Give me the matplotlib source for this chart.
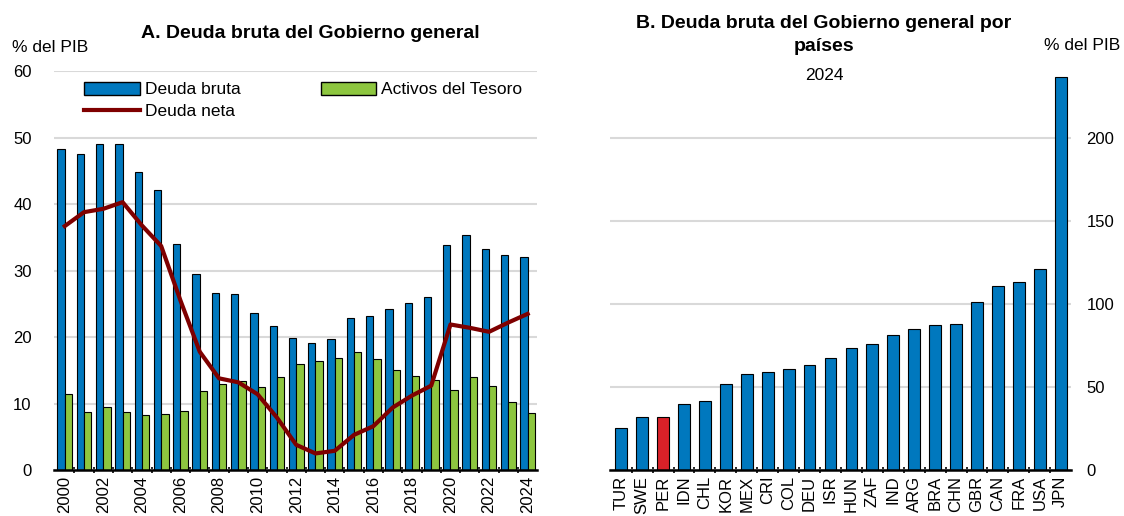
import numpy as np
import matplotlib
matplotlib.use("Agg")
from matplotlib import pyplot as plt
from matplotlib.patches import Patch
from matplotlib.lines import Line2D

# Panel A
years = list(range(2000, 2025))
deuda_bruta = [48.3, 47.6, 49.0, 49.1, 44.9, 42.1, 34.0, 29.5, 26.6, 26.5, 23.7, 21.6, 19.9,
               19.1, 19.7, 22.9, 23.2, 24.3, 25.2, 26.1, 33.9, 35.3, 33.3, 32.3, 32.1]
activos_tesoro = [11.4, 8.7, 9.5, 8.7, 8.3, 8.5, 8.9, 11.9, 12.9, 13.4, 12.5, 14.0, 16.0,
                  16.4, 16.8, 17.7, 16.7, 15.0, 14.2, 13.5, 12.1, 14.0, 12.6, 10.2, 8.6]
deuda_neta = [36.7, 38.8, 39.3, 40.3, 36.8, 33.7, 25.5, 17.8, 13.8, 13.2, 11.4, 7.9, 3.8,
              2.5, 2.9, 5.3, 6.6, 9.4, 11.2, 12.7, 21.9, 21.4, 20.8, 22.2, 23.5]

# Panel B
paises = ["TUR", "SWE", "PER", "IDN", "CHL", "KOR", "MEX", "CRI", "COL", "DEU", "ISR", "HUN",
          "ZAF", "IND", "ARG", "BRA", "CHN", "GBR", "CAN", "FRA", "USA", "JPN"]
deuda_paises = [25.1, 31.9, 31.9, 39.8, 41.4, 52.0, 58.0, 59.2, 60.8, 63.5, 67.5, 73.3,
                76.1, 81.1, 85.1, 87.1, 87.9, 101.2, 110.8, 113.0, 120.9, 236.4]

BLUE = "#0078BE"
GREEN = "#8DC63F"
DARKRED = "#7F0000"
RED = "#DA2128"
GRID = "#D9D9D9"

plt.rcParams['font.family'] = ['Liberation Sans', 'DejaVu Sans']
TSIZE = 12

fig = plt.figure(figsize=(11.24, 5.16), dpi=100)

# ---- Panel A ----
ax = fig.add_axes([0.048, 0.089, 0.4295, 0.773])
x = np.arange(len(years))
w = 0.38
ax.bar(x - w / 2, deuda_bruta, w, color=BLUE, edgecolor="black", linewidth=0.8, zorder=2)
ax.bar(x + w / 2, activos_tesoro, w, color=GREEN, edgecolor="black", linewidth=0.8, zorder=2)
ax.plot(x, deuda_neta, color=DARKRED, linewidth=3, zorder=3)
ax.set_ylim(0, 60)
ax.set_xlim(-0.56, len(years) - 0.53)
ax.set_yticks(range(0, 61, 10))
ax.yaxis.grid(True, color=GRID, linewidth=1.5, zorder=0)
ax.set_xticks(x[::2])
ax.set_xticklabels([str(y) for y in years[::2]], rotation=90, fontsize=TSIZE)
ax.set_xticks(x[:-1] + 0.5, minor=True)
ax.tick_params(axis="x", which="major", length=0, pad=4)
ax.tick_params(axis="x", which="minor", length=5, width=1.2, direction="inout")
ax.tick_params(axis="y", length=0, labelsize=TSIZE, pad=16)
for s in ["top", "right", "left"]:
    ax.spines[s].set_visible(False)
ax.spines["bottom"].set_linewidth(1.8)
ax.set_title("A. Deuda bruta del Gobierno general", fontsize=14, fontweight="bold",
             pad=24, x=0.53)
fig.text(0.011, 0.908, "% del PIB", fontsize=12.5, va="center", ha="left")

handles = [Patch(facecolor=BLUE, edgecolor="black"),
           Line2D([0], [0], color=DARKRED, linewidth=3),
           Patch(facecolor=GREEN, edgecolor="black")]
labels = ["Deuda bruta", "Deuda neta", "Activos del Tesoro"]
ax.legend(handles, labels, ncol=2, loc="upper left", bbox_to_anchor=(0.045, 0.995),
          frameon=False, fontsize=12.5, handlelength=3.2, handleheight=0.75,
          columnspacing=4.6, handletextpad=0.3, labelspacing=0.35, borderaxespad=0.1)

# ---- Panel B ----
bx = fig.add_axes([0.543, 0.089, 0.410, 0.773])
xb = np.arange(len(paises))
colors = [RED if p == "PER" else BLUE for p in paises]
bx.bar(xb, deuda_paises, 0.56, color=colors, edgecolor="black", linewidth=0.8, zorder=2)
bx.set_ylim(0, 240)
bx.set_xlim(-0.52, len(paises) - 0.5)
bx.set_yticks([0, 50, 100, 150, 200])
bx.yaxis.grid(True, color=GRID, linewidth=1.5, zorder=0)
bx.yaxis.tick_right()
bx.tick_params(axis="y", length=0, labelsize=TSIZE, pad=11)
bx.set_xticks(xb)
bx.set_xticklabels(paises, rotation=90, fontsize=TSIZE)
bx.set_xticks(xb[:-1] + 0.5, minor=True)
bx.tick_params(axis="x", which="major", length=0, pad=4)
bx.tick_params(axis="x", which="minor", length=5, width=1.2, direction="inout")
for s in ["top", "right", "left"]:
    bx.spines[s].set_visible(False)
bx.spines["bottom"].set_linewidth(1.8)
fig.text(0.733, 0.97, "B. Deuda bruta del Gobierno general por\npaíses", fontsize=14,
         fontweight="bold", ha="center", va="top", linespacing=1.45)
fig.text(0.733, 0.853, "2024", fontsize=12.5, ha="center", va="center")
fig.text(0.997, 0.912, "% del PIB", fontsize=12.5, ha="right", va="center")

fig.savefig("out.png", dpi=100)
